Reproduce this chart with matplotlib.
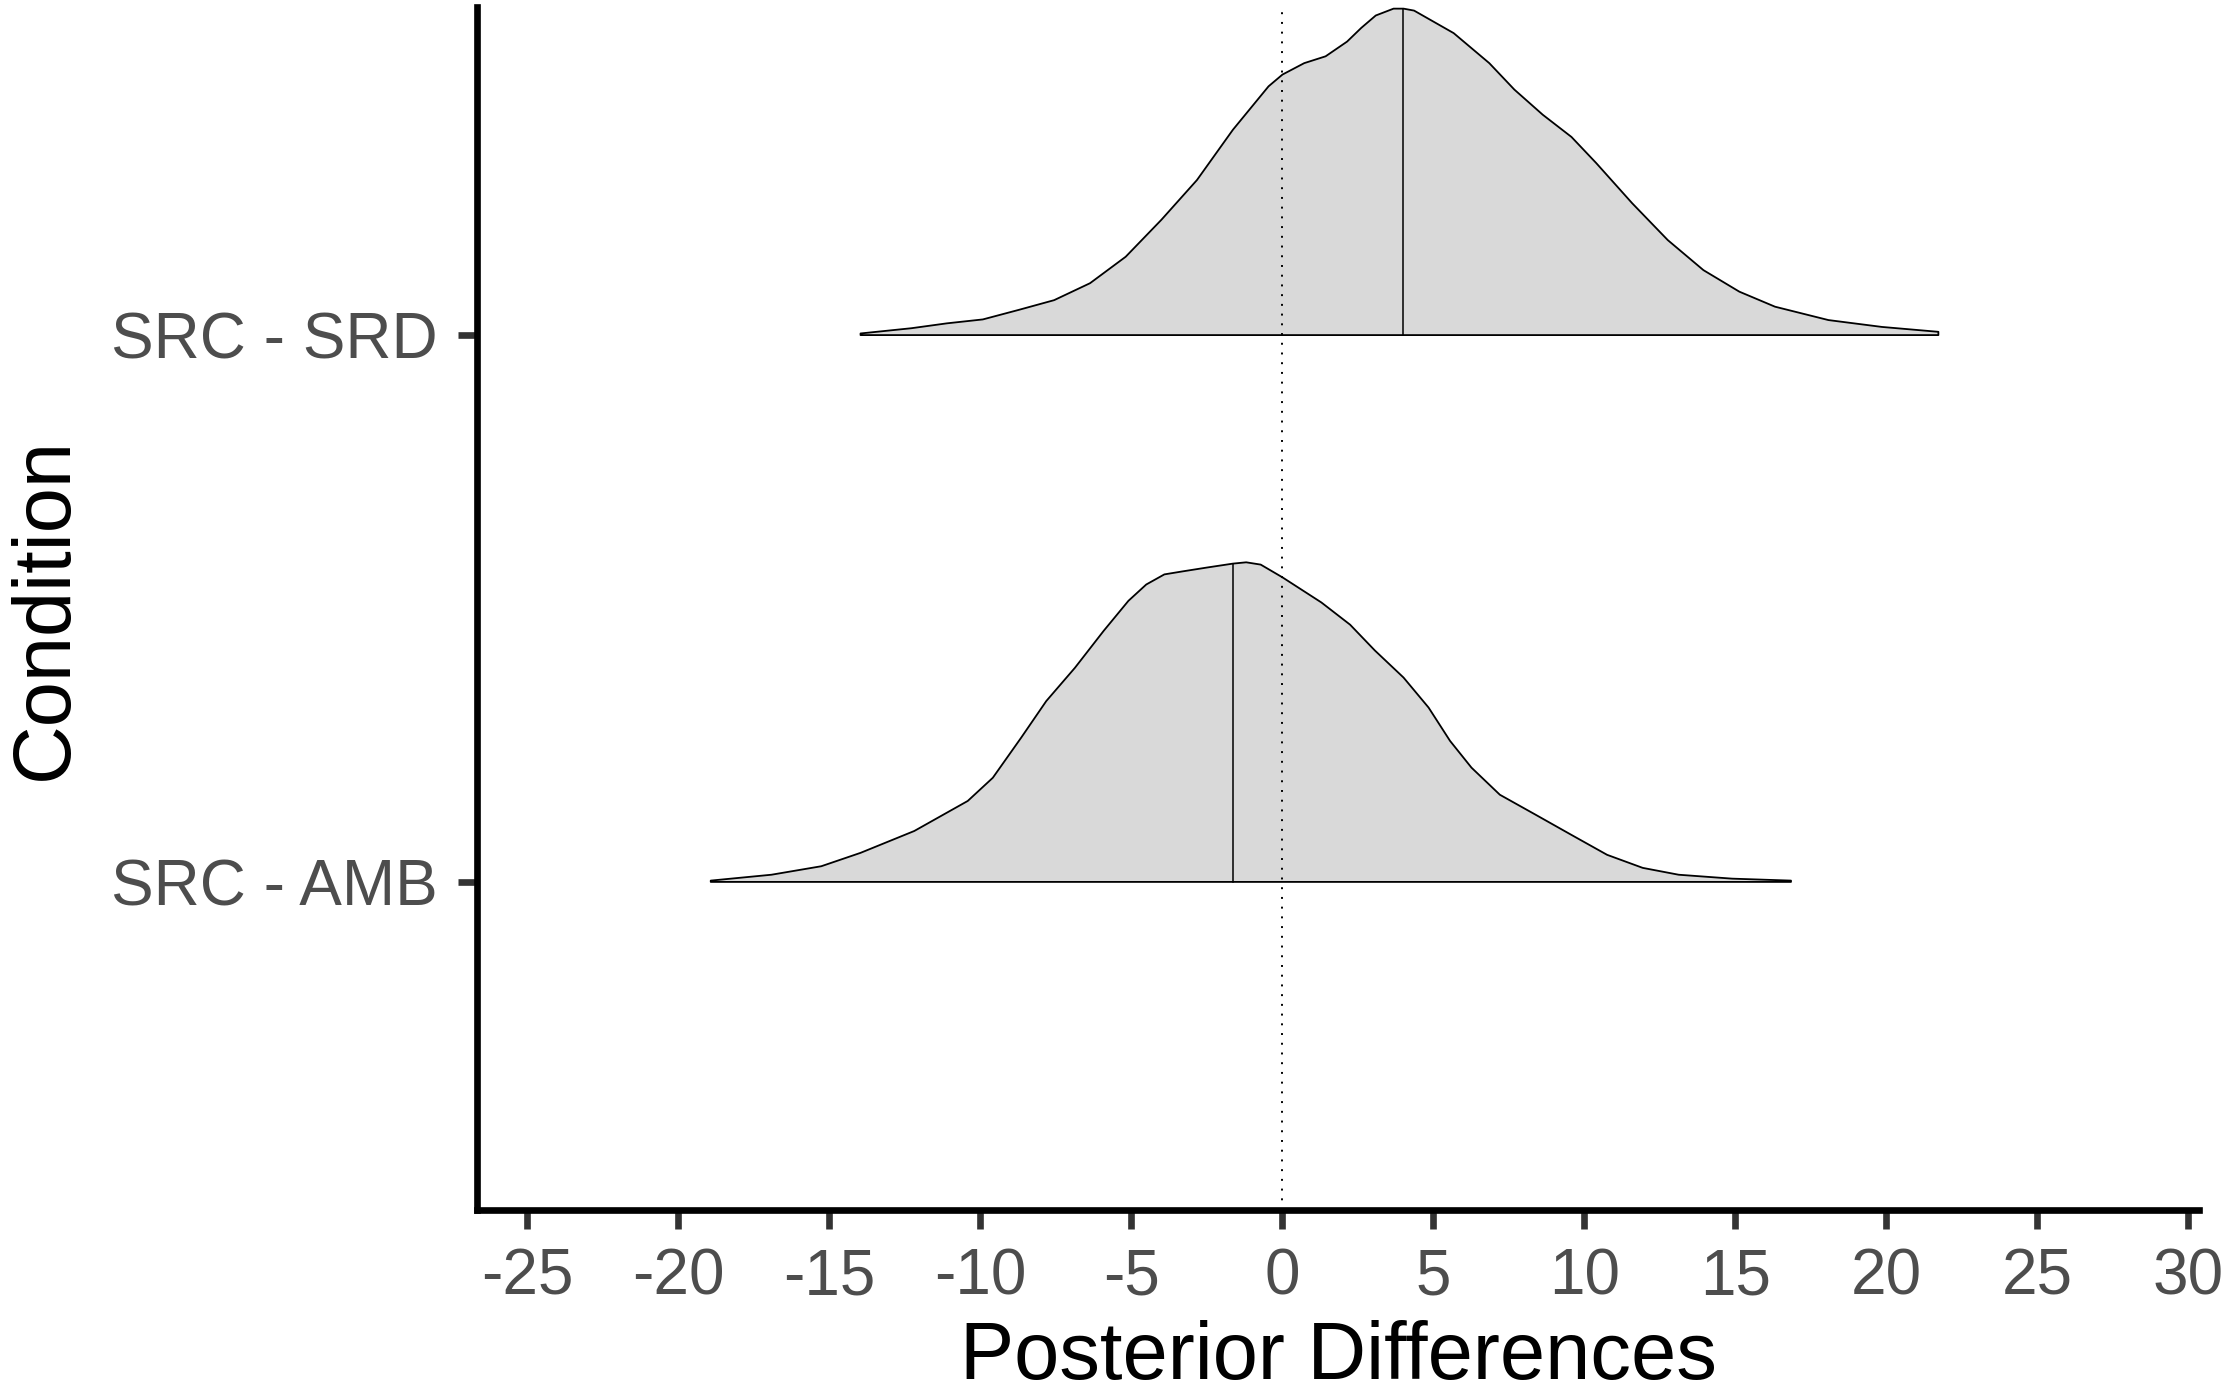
import numpy as np
import matplotlib
matplotlib.use("Agg")
import matplotlib.pyplot as plt
from matplotlib.ticker import FixedLocator

# ——— Data (relative density, peak of SRD = 1) ———

conditions = ["SRC - AMB", "SRC - SRD"]

srd_x = [-13.97, -12.29, -11.11, -9.92, -8.74, -7.56, -6.37, -5.19, -4.01, -2.83,
         -1.64, -0.46, 0.0, 0.72, 1.43, 2.14, 2.61, 3.09, 3.68, 4.01,
         4.36, 5.67, 6.85, 7.68, 8.62, 9.57, 10.39, 11.58, 12.76, 13.94,
         15.13, 16.31, 18.08, 19.85, 21.72]
srd_d = [0.005, 0.021, 0.036, 0.048, 0.077, 0.107, 0.159, 0.240, 0.353, 0.475,
         0.629, 0.762, 0.798, 0.833, 0.854, 0.899, 0.941, 0.979, 1.000, 1.000,
         0.994, 0.925, 0.833, 0.752, 0.675, 0.607, 0.527, 0.404, 0.291, 0.199,
         0.133, 0.087, 0.046, 0.025, 0.010]

amb_x = [-18.93, -16.92, -15.27, -13.97, -12.19, -10.42, -9.59, -8.65, -7.82, -6.87,
         -5.92, -5.10, -4.51, -3.91, -3.32, -2.50, -1.64, -1.20, -0.72, 0.0,
         1.29, 2.24, 3.06, 4.01, 4.84, 5.55, 6.26, 7.20, 8.38, 9.57,
         10.75, 11.93, 13.12, 14.89, 16.84]
amb_d = [0.004, 0.022, 0.048, 0.089, 0.156, 0.248, 0.319, 0.442, 0.554, 0.656,
         0.769, 0.861, 0.911, 0.942, 0.951, 0.963, 0.975, 0.979, 0.972, 0.933,
         0.856, 0.788, 0.709, 0.626, 0.534, 0.432, 0.350, 0.267, 0.206, 0.144,
         0.083, 0.043, 0.022, 0.010, 0.004]

medians = [-1.65, 4.0]
x_ticks = [-25, -20, -15, -10, -5, 0, 5, 10, 15, 20, 25, 30]

# ——— Style ———

plt.rcParams['font.family'] = ['Liberation Sans', 'DejaVu Sans']
plt.rcParams['axes.unicode_minus'] = False

RIDGE_SCALE = 0.597
FILL = "#D9D9D9"
TICK_TEXT = "#4D4D4D"
TICK_LINE = "#333333"


def draw_ridge(ax, base, xs, ds, median):
    """Filled density ridge with outline and a median line."""
    xs = np.asarray(xs)
    top = base + RIDGE_SCALE * np.asarray(ds)
    px = np.concatenate([xs, xs[::-1]])
    py = np.concatenate([top, np.full(len(xs), base)])
    ax.fill(px, py, facecolor=FILL, edgecolor="black", linewidth=1.3,
            joinstyle="round", zorder=2)
    h = base + RIDGE_SCALE * np.interp(median, xs, ds)
    ax.plot([median, median], [base, h], color="black", linewidth=1.1, zorder=3)


fig = plt.figure(figsize=(22.3, 13.92), dpi=100)
ax = fig.add_axes([477 / 2230, 1 - 1210 / 1392, (2199 - 477) / 2230, (1210 - 7) / 1392])

draw_ridge(ax, 1, amb_x, amb_d, medians[0])
draw_ridge(ax, 2, srd_x, srd_d, medians[1])

ax.axvline(0, color="black", linewidth=1.4, linestyle=(0, (1, 4)), zorder=4)

ax.set_xlim(-26.67, 30.35)
ax.set_ylim(0.4, 2.6)

ax.xaxis.set_major_locator(FixedLocator(x_ticks))
ax.set_yticks([1, 2])
ax.set_yticklabels(conditions)

for side in ("top", "right"):
    ax.spines[side].set_visible(False)
for side in ("left", "bottom"):
    ax.spines[side].set_linewidth(4.8)
    ax.spines[side].set_color("black")
    ax.spines[side].set_capstyle("projecting")

ax.tick_params(axis="both", length=14, width=4.8, color=TICK_LINE,
               labelcolor=TICK_TEXT, labelsize=46)
ax.tick_params(axis="x", pad=13)
ax.tick_params(axis="y", pad=14)

ax.set_xlabel("Posterior Differences", fontsize=58.5, color="black", labelpad=9)
ax.set_ylabel("Condition", fontsize=58.5, color="black", labelpad=20)

fig.savefig("out.png", dpi=100, facecolor="white")
